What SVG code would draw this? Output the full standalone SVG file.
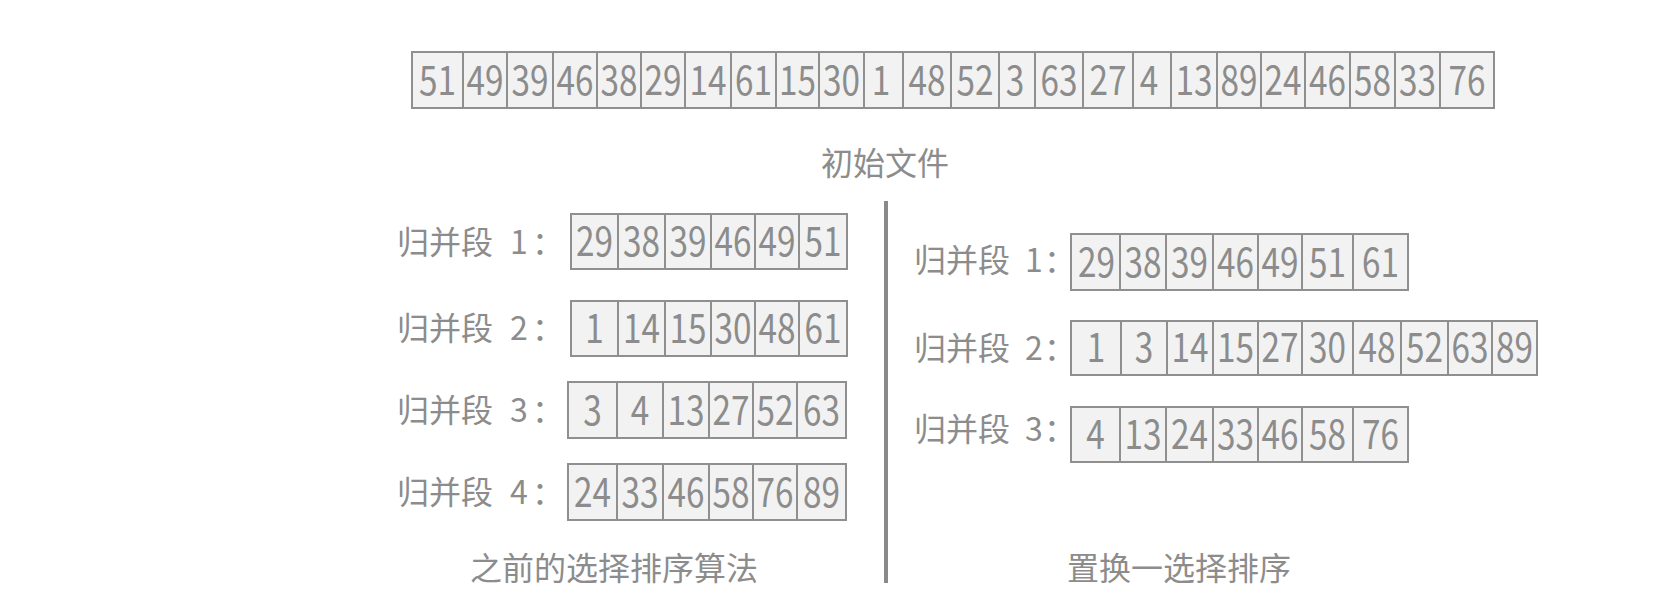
<svg xmlns="http://www.w3.org/2000/svg" width="1676" height="600" viewBox="0 0 1676 600">
<style>
.cell{fill:#f2f2f2;stroke:#8f8f8f;stroke-width:2}
.num{font-family:"Noto Sans CJK SC","Open Sans",sans-serif;font-size:40px;fill:#8c8c8c;text-anchor:middle}
.lbl{font-family:"Noto Sans CJK SC",sans-serif;font-size:32px;fill:#8c8c8c}
.cap{font-family:"Noto Sans CJK SC",sans-serif;font-size:32px;fill:#8c8c8c;text-anchor:middle}
.div{stroke:#8a8a8a;stroke-width:4}
</style>
<rect width="1676" height="600" fill="#ffffff"/>
<g id="initial-file">
<rect class="cell" x="412" y="52" width="51" height="56"/><rect class="cell" x="463" y="52" width="44" height="56"/><rect class="cell" x="507" y="52" width="46" height="56"/><rect class="cell" x="553" y="52" width="44" height="56"/><rect class="cell" x="597" y="52" width="44" height="56"/><rect class="cell" x="641" y="52" width="44" height="56"/><rect class="cell" x="685" y="52" width="46" height="56"/><rect class="cell" x="731" y="52" width="45" height="56"/><rect class="cell" x="776" y="52" width="43" height="56"/><rect class="cell" x="819" y="52" width="45" height="56"/><rect class="cell" x="864" y="52" width="39" height="56"/><rect class="cell" x="903" y="52" width="48" height="56"/><rect class="cell" x="951" y="52" width="48" height="56"/><rect class="cell" x="999" y="52" width="36" height="56"/><rect class="cell" x="1035" y="52" width="48" height="56"/><rect class="cell" x="1083" y="52" width="50" height="56"/><rect class="cell" x="1133" y="52" width="38" height="56"/><rect class="cell" x="1171" y="52" width="46" height="56"/><rect class="cell" x="1217" y="52" width="44" height="56"/><rect class="cell" x="1261" y="52" width="44" height="56"/><rect class="cell" x="1305" y="52" width="45" height="56"/><rect class="cell" x="1350" y="52" width="45" height="56"/><rect class="cell" x="1395" y="52" width="45" height="56"/><rect class="cell" x="1440" y="52" width="54" height="56"/>
<text class="num" x="437.5" y="95" textLength="37" lengthAdjust="spacingAndGlyphs">51</text><text class="num" x="485" y="95" textLength="37" lengthAdjust="spacingAndGlyphs">49</text><text class="num" x="530" y="95" textLength="37" lengthAdjust="spacingAndGlyphs">39</text><text class="num" x="575" y="95" textLength="37" lengthAdjust="spacingAndGlyphs">46</text><text class="num" x="619" y="95" textLength="37" lengthAdjust="spacingAndGlyphs">38</text><text class="num" x="663" y="95" textLength="37" lengthAdjust="spacingAndGlyphs">29</text><text class="num" x="708" y="95" textLength="37" lengthAdjust="spacingAndGlyphs">14</text><text class="num" x="753.5" y="95" textLength="37" lengthAdjust="spacingAndGlyphs">61</text><text class="num" x="797.5" y="95" textLength="37" lengthAdjust="spacingAndGlyphs">15</text><text class="num" x="841.5" y="95" textLength="37" lengthAdjust="spacingAndGlyphs">30</text><text class="num" x="881" y="95" textLength="18.5" lengthAdjust="spacingAndGlyphs">1</text><text class="num" x="927" y="95" textLength="37" lengthAdjust="spacingAndGlyphs">48</text><text class="num" x="975" y="95" textLength="37" lengthAdjust="spacingAndGlyphs">52</text><text class="num" x="1015" y="95" textLength="18.5" lengthAdjust="spacingAndGlyphs">3</text><text class="num" x="1059" y="95" textLength="37" lengthAdjust="spacingAndGlyphs">63</text><text class="num" x="1108" y="95" textLength="37" lengthAdjust="spacingAndGlyphs">27</text><text class="num" x="1149" y="95" textLength="18.5" lengthAdjust="spacingAndGlyphs">4</text><text class="num" x="1194" y="95" textLength="37" lengthAdjust="spacingAndGlyphs">13</text><text class="num" x="1239" y="95" textLength="37" lengthAdjust="spacingAndGlyphs">89</text><text class="num" x="1283" y="95" textLength="37" lengthAdjust="spacingAndGlyphs">24</text><text class="num" x="1327.5" y="95" textLength="37" lengthAdjust="spacingAndGlyphs">46</text><text class="num" x="1372.5" y="95" textLength="37" lengthAdjust="spacingAndGlyphs">58</text><text class="num" x="1417.5" y="95" textLength="37" lengthAdjust="spacingAndGlyphs">33</text><text class="num" x="1467" y="95" textLength="37" lengthAdjust="spacingAndGlyphs">76</text>
<text class="cap" x="885" y="175">初始文件</text>
</g>
<g id="old-run-1">
<text class="lbl" x="397" y="254">归并段 <tspan x="510">1</tspan><tspan x="532">：</tspan></text>
<rect class="cell" x="571" y="214" width="47" height="55"/><rect class="cell" x="618" y="214" width="47" height="55"/><rect class="cell" x="665" y="214" width="46" height="55"/><rect class="cell" x="711" y="214" width="44" height="55"/><rect class="cell" x="755" y="214" width="44" height="55"/><rect class="cell" x="799" y="214" width="48" height="55"/>
<text class="num" x="594.5" y="256" textLength="37" lengthAdjust="spacingAndGlyphs">29</text><text class="num" x="641.5" y="256" textLength="37" lengthAdjust="spacingAndGlyphs">38</text><text class="num" x="688" y="256" textLength="37" lengthAdjust="spacingAndGlyphs">39</text><text class="num" x="733" y="256" textLength="37" lengthAdjust="spacingAndGlyphs">46</text><text class="num" x="777" y="256" textLength="37" lengthAdjust="spacingAndGlyphs">49</text><text class="num" x="823" y="256" textLength="37" lengthAdjust="spacingAndGlyphs">51</text>
</g>
<g id="old-run-2">
<text class="lbl" x="397" y="340">归并段 <tspan x="510">2</tspan><tspan x="532">：</tspan></text>
<rect class="cell" x="571" y="301" width="47" height="55"/><rect class="cell" x="618" y="301" width="47" height="55"/><rect class="cell" x="665" y="301" width="46" height="55"/><rect class="cell" x="711" y="301" width="44" height="55"/><rect class="cell" x="755" y="301" width="44" height="55"/><rect class="cell" x="799" y="301" width="48" height="55"/>
<text class="num" x="594.5" y="343" textLength="18.5" lengthAdjust="spacingAndGlyphs">1</text><text class="num" x="641.5" y="343" textLength="37" lengthAdjust="spacingAndGlyphs">14</text><text class="num" x="688" y="343" textLength="37" lengthAdjust="spacingAndGlyphs">15</text><text class="num" x="733" y="343" textLength="37" lengthAdjust="spacingAndGlyphs">30</text><text class="num" x="777" y="343" textLength="37" lengthAdjust="spacingAndGlyphs">48</text><text class="num" x="823" y="343" textLength="37" lengthAdjust="spacingAndGlyphs">61</text>
</g>
<g id="old-run-3">
<text class="lbl" x="397" y="421.5">归并段 <tspan x="510">3</tspan><tspan x="532">：</tspan></text>
<rect class="cell" x="568" y="382" width="49" height="56"/><rect class="cell" x="617" y="382" width="46" height="56"/><rect class="cell" x="663" y="382" width="46" height="56"/><rect class="cell" x="709" y="382" width="44" height="56"/><rect class="cell" x="753" y="382" width="44" height="56"/><rect class="cell" x="797" y="382" width="49" height="56"/>
<text class="num" x="592.5" y="425" textLength="18.5" lengthAdjust="spacingAndGlyphs">3</text><text class="num" x="640" y="425" textLength="18.5" lengthAdjust="spacingAndGlyphs">4</text><text class="num" x="686" y="425" textLength="37" lengthAdjust="spacingAndGlyphs">13</text><text class="num" x="731" y="425" textLength="37" lengthAdjust="spacingAndGlyphs">27</text><text class="num" x="775" y="425" textLength="37" lengthAdjust="spacingAndGlyphs">52</text><text class="num" x="821.5" y="425" textLength="37" lengthAdjust="spacingAndGlyphs">63</text>
</g>
<g id="old-run-4">
<text class="lbl" x="397" y="504">归并段 <tspan x="510">4</tspan><tspan x="532">：</tspan></text>
<rect class="cell" x="568" y="464" width="49" height="56"/><rect class="cell" x="617" y="464" width="46" height="56"/><rect class="cell" x="663" y="464" width="46" height="56"/><rect class="cell" x="709" y="464" width="44" height="56"/><rect class="cell" x="753" y="464" width="44" height="56"/><rect class="cell" x="797" y="464" width="49" height="56"/>
<text class="num" x="592.5" y="507" textLength="37" lengthAdjust="spacingAndGlyphs">24</text><text class="num" x="640" y="507" textLength="37" lengthAdjust="spacingAndGlyphs">33</text><text class="num" x="686" y="507" textLength="37" lengthAdjust="spacingAndGlyphs">46</text><text class="num" x="731" y="507" textLength="37" lengthAdjust="spacingAndGlyphs">58</text><text class="num" x="775" y="507" textLength="37" lengthAdjust="spacingAndGlyphs">76</text><text class="num" x="821.5" y="507" textLength="37" lengthAdjust="spacingAndGlyphs">89</text>
</g>
<g id="old-caption">
<text class="cap" x="614" y="580">之前的选择排序算法</text>
</g>
<g id="divider">
<line class="div" x1="886" y1="201" x2="886" y2="583"/>
</g>
<g id="new-run-1">
<text class="lbl" x="914" y="272">归并段 <tspan x="1025">1</tspan><tspan x="1044">：</tspan></text>
<rect class="cell" x="1071" y="234" width="49" height="56"/><rect class="cell" x="1120" y="234" width="46" height="56"/><rect class="cell" x="1166" y="234" width="47" height="56"/><rect class="cell" x="1213" y="234" width="45" height="56"/><rect class="cell" x="1258" y="234" width="44" height="56"/><rect class="cell" x="1302" y="234" width="51" height="56"/><rect class="cell" x="1353" y="234" width="55" height="56"/>
<text class="num" x="1096.5" y="277" textLength="37" lengthAdjust="spacingAndGlyphs">29</text><text class="num" x="1143" y="277" textLength="37" lengthAdjust="spacingAndGlyphs">38</text><text class="num" x="1189.5" y="277" textLength="37" lengthAdjust="spacingAndGlyphs">39</text><text class="num" x="1235.5" y="277" textLength="37" lengthAdjust="spacingAndGlyphs">46</text><text class="num" x="1280" y="277" textLength="37" lengthAdjust="spacingAndGlyphs">49</text><text class="num" x="1327.5" y="277" textLength="37" lengthAdjust="spacingAndGlyphs">51</text><text class="num" x="1380.5" y="277" textLength="37" lengthAdjust="spacingAndGlyphs">61</text>
</g>
<g id="new-run-2">
<text class="lbl" x="914" y="359.5">归并段 <tspan x="1025">2</tspan><tspan x="1044">：</tspan></text>
<rect class="cell" x="1071" y="321" width="50" height="54"/><rect class="cell" x="1121" y="321" width="46" height="54"/><rect class="cell" x="1167" y="321" width="46" height="54"/><rect class="cell" x="1213" y="321" width="45" height="54"/><rect class="cell" x="1258" y="321" width="44" height="54"/><rect class="cell" x="1302" y="321" width="51" height="54"/><rect class="cell" x="1353" y="321" width="48" height="54"/><rect class="cell" x="1401" y="321" width="47" height="54"/><rect class="cell" x="1448" y="321" width="44" height="54"/><rect class="cell" x="1492" y="321" width="45" height="54"/>
<text class="num" x="1096" y="362" textLength="18.5" lengthAdjust="spacingAndGlyphs">1</text><text class="num" x="1144" y="362" textLength="18.5" lengthAdjust="spacingAndGlyphs">3</text><text class="num" x="1190" y="362" textLength="37" lengthAdjust="spacingAndGlyphs">14</text><text class="num" x="1235.5" y="362" textLength="37" lengthAdjust="spacingAndGlyphs">15</text><text class="num" x="1280" y="362" textLength="37" lengthAdjust="spacingAndGlyphs">27</text><text class="num" x="1327.5" y="362" textLength="37" lengthAdjust="spacingAndGlyphs">30</text><text class="num" x="1377" y="362" textLength="37" lengthAdjust="spacingAndGlyphs">48</text><text class="num" x="1424.5" y="362" textLength="37" lengthAdjust="spacingAndGlyphs">52</text><text class="num" x="1470" y="362" textLength="37" lengthAdjust="spacingAndGlyphs">63</text><text class="num" x="1514.5" y="362" textLength="37" lengthAdjust="spacingAndGlyphs">89</text>
</g>
<g id="new-run-3">
<text class="lbl" x="914" y="440.5">归并段 <tspan x="1025">3</tspan><tspan x="1044">：</tspan></text>
<rect class="cell" x="1071" y="407" width="49" height="55"/><rect class="cell" x="1120" y="407" width="46" height="55"/><rect class="cell" x="1166" y="407" width="47" height="55"/><rect class="cell" x="1213" y="407" width="45" height="55"/><rect class="cell" x="1258" y="407" width="44" height="55"/><rect class="cell" x="1302" y="407" width="51" height="55"/><rect class="cell" x="1353" y="407" width="55" height="55"/>
<text class="num" x="1095.5" y="449" textLength="18.5" lengthAdjust="spacingAndGlyphs">4</text><text class="num" x="1143" y="449" textLength="37" lengthAdjust="spacingAndGlyphs">13</text><text class="num" x="1189.5" y="449" textLength="37" lengthAdjust="spacingAndGlyphs">24</text><text class="num" x="1235.5" y="449" textLength="37" lengthAdjust="spacingAndGlyphs">33</text><text class="num" x="1280" y="449" textLength="37" lengthAdjust="spacingAndGlyphs">46</text><text class="num" x="1327.5" y="449" textLength="37" lengthAdjust="spacingAndGlyphs">58</text><text class="num" x="1380.5" y="449" textLength="37" lengthAdjust="spacingAndGlyphs">76</text>
</g>
<g id="new-caption">
<text class="cap" x="1179" y="580">置换一选择排序</text>
</g>
</svg>
